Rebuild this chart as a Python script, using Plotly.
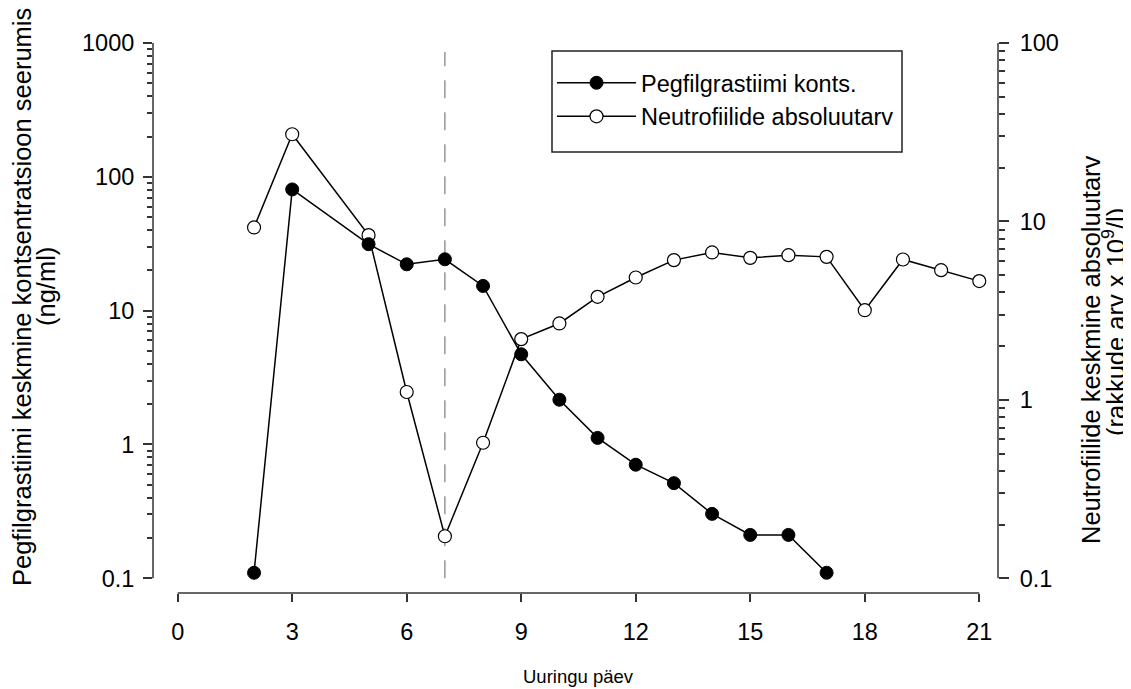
import plotly.graph_objects as go

# ---- data ----
days_conc = [2, 3, 5, 6, 7, 8, 9, 10, 11, 12, 13, 14, 15, 16, 17]
conc = [0.11, 80.5, 31.4, 22.2, 24.2, 15.3, 4.72, 2.16, 1.12, 0.706, 0.514, 0.303, 0.211, 0.211, 0.11]

days_anc = [2, 3, 5, 6, 7, 8, 9, 10, 11, 12, 13, 14, 15, 16, 17, 18, 19, 20, 21]
anc = [9.25, 30.8, 8.38, 1.107, 0.172, 0.575, 2.19, 2.68, 3.78, 4.85, 6.07, 6.70, 6.25, 6.47, 6.33, 3.18, 6.12, 5.33, 4.63]

x_ticks = [0, 3, 6, 9, 12, 15, 18, 21]
left_ticks = [0.1, 1, 10, 100, 1000]
left_ticktext = ["0.1", "1", "10", "100", "1000"]
right_ticks = [0.1, 1, 10, 100]
right_ticktext = ["0.1", "1", "10", "100"]
marker_day = 7

name_conc = "Pegfilgrastiimi konts."
name_anc = "Neutrofiilide absoluutarv"
x_title = "Uuringu päev"
left_title = ["Pegfilgrastiimi keskmine kontsentratsioon seerumis", "(ng/ml)"]
right_title = ["Neutrofiilide keskmine absoluutarv", "(rakkude arv x 10<sup>9</sup>/l)"]

FONT = "Liberation Sans, Arial, sans-serif"
FS_TICK = 23.5
FS_LEFT = 25.5
FS_RIGHT = 25.5
FS_X = 18.5
FS_LEG = 23.5


def minor_vals(lo_exp, hi_exp):
    out = []
    for e in range(lo_exp, hi_exp):
        for m in range(2, 10):
            out.append(m * 10 ** e)
    return out


fig = go.Figure()

# neutrophils (right axis) drawn first (below)
fig.add_trace(go.Scatter(
    x=days_anc, y=anc, mode="lines+markers", name=name_anc, yaxis="y",
    line=dict(color="black", width=1.5),
    marker=dict(symbol="circle", size=13, color="white", line=dict(color="black", width=1.2)),
    legendrank=2,
))
# concentration (left axis) on overlay -> drawn above
fig.add_trace(go.Scatter(
    x=days_conc, y=conc, mode="lines+markers", name=name_conc, yaxis="y2",
    line=dict(color="black", width=1.5),
    marker=dict(symbol="circle", size=13, color="black", line=dict(color="black", width=1)),
    legendrank=1,
))

OFF = 8  # page body margin
W, H = 1131 - OFF, 689 - OFF
# page-pixel geometry of plot box
PL, PR, PT, PB = 153, 998, 43, 593
L, R, T, B = PL - OFF, PR - OFF, PT - OFF, PB - OFF
ppd_left = (578.3 - 43) / 4.0
ppd_right = (578.3 - 43) / 3.0
left_range = [-1 - (PB - 578.3) / ppd_left, 3]
right_range = [-1 - (PB - 578.3) / ppd_right, 2]


def px(xp):
    return (xp - PL) / (PR - PL)


def py(yp):
    return (PB - yp) / (PB - PT)


tickfont = dict(family=FONT, size=FS_TICK, color="black")

fig.update_layout(
    width=W, height=H, autosize=False,
    margin=dict(l=L, r=W - R, t=T, b=H - B, pad=0),
    paper_bgcolor="white", plot_bgcolor="white",
    font=dict(family=FONT, size=FS_TICK, color="black"),
    showlegend=True,
    xaxis=dict(
        range=[-(177.7 - PL) / 38.17, (PR - 177.7) / 38.17],
        tickmode="array", tickvals=x_ticks, ticktext=[str(v) for v in x_ticks],
        ticks="outside", ticklen=8, tickwidth=1.5, tickcolor="#333",
        showline=False, showgrid=False, zeroline=False,
        tickfont=tickfont, ticklabelstandoff=10,
    ),
    yaxis=dict(
        type="log", side="right", range=right_range,
        tickmode="array", tickvals=right_ticks, ticktext=right_ticktext,
        ticks="outside", ticklen=10, tickwidth=1.5, tickcolor="#333",
        minor=dict(tickmode="array", tickvals=minor_vals(-1, 2), ticks="outside",
                   ticklen=6, tickwidth=1.5, tickcolor="#333", showgrid=False),
        showline=False, showgrid=False, zeroline=False,
        tickfont=tickfont, ticklabelstandoff=6,
    ),
    yaxis2=dict(
        type="log", side="left", overlaying="y", range=left_range,
        tickmode="array", tickvals=left_ticks, ticktext=left_ticktext,
        ticks="outside", ticklen=9, tickwidth=1.5, tickcolor="#333",
        minor=dict(tickmode="array", tickvals=minor_vals(-1, 3), ticks="outside",
                   ticklen=5, tickwidth=1.5, tickcolor="#333", showgrid=False),
        showline=False, showgrid=False, zeroline=False,
        tickfont=tickfont, ticklabelstandoff=4,
    ),
    legend=dict(
        x=px(552), y=py(61), xanchor="left", yanchor="top",
        bgcolor="rgba(0,0,0,0)", borderwidth=0,
        font=dict(family=FONT, size=FS_LEG, color="black"),
        itemwidth=79, traceorder="normal",
    ),
)

# legend frame
fig.add_shape(type="rect", xref="paper", yref="paper",
              x0=px(552), x1=px(902), y0=py(152), y1=py(51),
              line=dict(color="#222", width=1.5), fillcolor="white", layer="above")

# axis lines (detached style)
fig.add_shape(type="line", xref="paper", yref="y2", x0=0, x1=0, y0=left_ticks[0], y1=left_ticks[-1],
              line=dict(color="#333", width=1.5))
fig.add_shape(type="line", xref="paper", yref="y", x0=1, x1=1, y0=right_ticks[0], y1=right_ticks[-1],
              line=dict(color="#333", width=1.5))
fig.add_shape(type="line", xref="x", yref="paper", x0=x_ticks[0], x1=x_ticks[-1], y0=0, y1=0,
              line=dict(color="#333", width=1.5))
# dashed reference line at day 7
fig.add_shape(type="line", xref="x", yref="y2", x0=marker_day, x1=marker_day, y0=0.1, y1=857,
              line=dict(color="#888", width=1.3, dash="18px,14px"), layer="below")

# axis titles
fig.add_annotation(text=left_title[0], xref="paper", yref="paper", x=0, y=py(297),
                   xshift=22 - PL, textangle=-90, showarrow=False,
                   xanchor="center", yanchor="middle", font=dict(size=FS_LEFT))
fig.add_annotation(text=left_title[1], xref="paper", yref="paper", x=0, y=py(287),
                   xshift=46 - PL, textangle=-90, showarrow=False,
                   xanchor="center", yanchor="middle", font=dict(size=FS_LEFT))
fig.add_annotation(text=right_title[0], xref="paper", yref="paper", x=1, y=py(350),
                   xshift=1091 - PR, textangle=-90, showarrow=False,
                   xanchor="center", yanchor="middle", font=dict(size=FS_RIGHT))
fig.add_annotation(text=right_title[1], xref="paper", yref="paper", x=1, y=py(322),
                   xshift=1114 - PR, textangle=-90, showarrow=False,
                   xanchor="center", yanchor="middle", font=dict(size=FS_RIGHT))
fig.add_annotation(text=x_title, xref="paper", yref="paper", x=px(578), y=0,
                   yshift=-(676 - PB), showarrow=False,
                   xanchor="center", yanchor="middle", font=dict(size=FS_X))

fig.write_html("out.html")
